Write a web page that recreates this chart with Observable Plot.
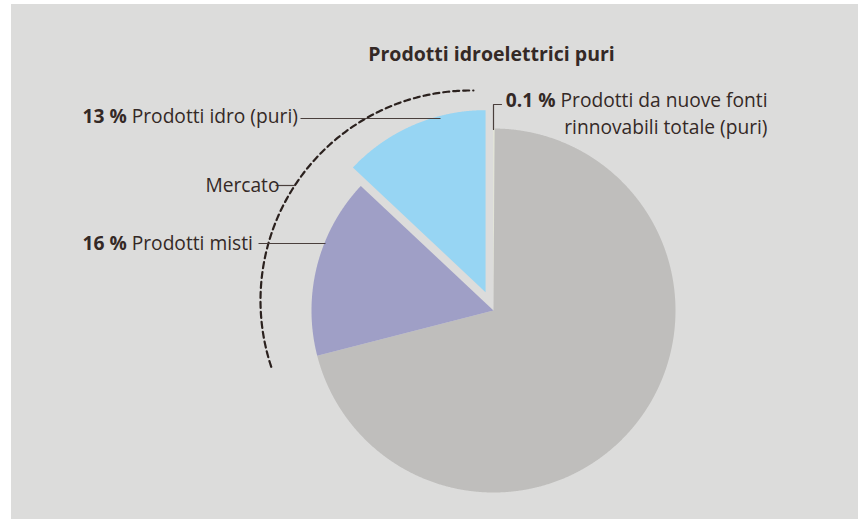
<!DOCTYPE html>
<html>
<head>
<meta charset="utf-8">
<script src="https://cdn.jsdelivr.net/npm/d3@7"></script>
<script src="https://cdn.jsdelivr.net/npm/@observablehq/plot@0.6"></script>
<style>
  html, body { margin: 0; padding: 0; background: #ffffff; overflow: hidden; }
  #chart svg { display: block; }
</style>
</head>
<body>
<div id="chart"></div>
<script>
// ---- Data ----
const slices = ["Prodotti da nuove fonti rinnovabili totale (puri)", "Altri prodotti", "Prodotti misti", "Prodotti idro (puri)"];
const shares = [0.1, 70.9, 16, 13];
const sliceColors = ["#e7ebd5", "#bfbebc", "#9f9fc6", "#97d5f3"];
const title = "Prodotti idroelettrici puri";
const valueLabels = ["13 %", "16 %", "0.1 %"];
const nameLabels = ["Prodotti idro (puri)", "Prodotti misti", "Prodotti da nuove fonti", "rinnovabili totale (puri)"];
const arcLabel = "Mercato";

// ---- Layout ----
const W = 858, H = 519;
const cx = 493, cy = 310, R = 182;
const explodeIndex = 3, explodeBy = 20;
const textColor = "#342926";
const lineColor = "#4a3f3c";
const font = "'Open Sans', 'Noto Sans', sans-serif";
const labelSize = 19.2, titleSize = 19.5;

// pie geometry (angles clockwise from 12 o'clock)
const pie = d3.pie().sort(null).startAngle(0).endAngle(2 * Math.PI)(shares);
const pt = (ox, oy, r, a) => ({x: ox + r * Math.sin(a), y: oy - r * Math.cos(a)});

const sliceMarks = pie.map((p, i) => {
  const mid = (p.startAngle + p.endAngle) / 2;
  const off = i === explodeIndex ? explodeBy : 0;
  const ox = cx + off * Math.sin(mid), oy = cy - off * Math.cos(mid);
  const n = Math.max(2, Math.ceil((p.endAngle - p.startAngle) / 0.004));
  const pts = [{x: ox, y: oy}];
  for (let k = 0; k <= n; k++) pts.push(pt(ox, oy, R, p.startAngle + (p.endAngle - p.startAngle) * k / n));
  pts.push({x: ox, y: oy});
  return Plot.line(pts, {x: "x", y: "y", fill: sliceColors[i], stroke: "none"});
});

// dashed "Mercato" arc
const arcCx = 470, arcCy = 300, arcR = 210;
const a0 = 251.6 * Math.PI / 180, a1 = 360.8 * Math.PI / 180;
const arcPts = d3.range(0, 201).map(k => pt(arcCx, arcCy, arcR, a0 + (a1 - a0) * k / 200));

const leaders = [
  {x1: 300, y1: 118, x2: 440, y2: 118},
  {x1: 275, y1: 185, x2: 295, y2: 185},
  {x1: 258, y1: 243, x2: 325, y2: 243}
];
const bracket = [{x: 501, y: 104}, {x: 493, y: 104}, {x: 493, y: 129}];

const label = (txt, x, y, anchor, size, weight) =>
  Plot.text([txt], {x: () => x, y: () => y, text: d => d, textAnchor: anchor, fontWeight: weight, fontSize: size, fill: textColor});

const chart = Plot.plot({
  width: W, height: H,
  margin: 0,
  x: {domain: [0, W], range: [0, W], axis: null},
  y: {domain: [0, H], range: [0, H], axis: null},
  style: {background: "transparent", fontFamily: font, overflow: "visible"},
  marks: [
    Plot.rect([0], {x1: () => 11, x2: () => W, y1: () => 4, y2: () => H, fill: "#dcdcdb"}),
    ...sliceMarks,
    Plot.line(arcPts, {x: "x", y: "y", stroke: "#2b211e", strokeWidth: 2.2, strokeDasharray: "6,4"}),
    Plot.link(leaders, {x1: "x1", y1: "y1", x2: "x2", y2: "y2", stroke: lineColor, strokeWidth: 1.2}),
    Plot.line(bracket, {x: "x", y: "y", stroke: lineColor, strokeWidth: 1.2}),
    label(title, 491, 54, "middle", titleSize, "bold"),
    label(valueLabels[0] + " " + nameLabels[0], 82, 116, "start", labelSize, "normal"),
    label(arcLabel, 279, 185, "end", labelSize, "normal"),
    label(valueLabels[1] + " " + nameLabels[1], 82, 243, "start", labelSize, "normal"),
    label(valueLabels[2] + " " + nameLabels[2], 767, 100, "end", labelSize, "normal"),
    label(nameLabels[3], 767, 127, "end", labelSize, "normal")
  ]
});

// make the percentage prefix of each label bold
d3.select(chart).selectAll("text").each(function () {
  const t = this.textContent;
  const v = valueLabels.find(v => t.startsWith(v + " "));
  if (v) {
    const rest = t.slice(v.length);
    const sel = d3.select(this);
    sel.text(null);
    sel.append("tspan").attr("font-weight", "bold").text(v);
    sel.append("tspan").text(rest);
  }
});

document.getElementById("chart").appendChild(chart);
</script>
</body>
</html>
